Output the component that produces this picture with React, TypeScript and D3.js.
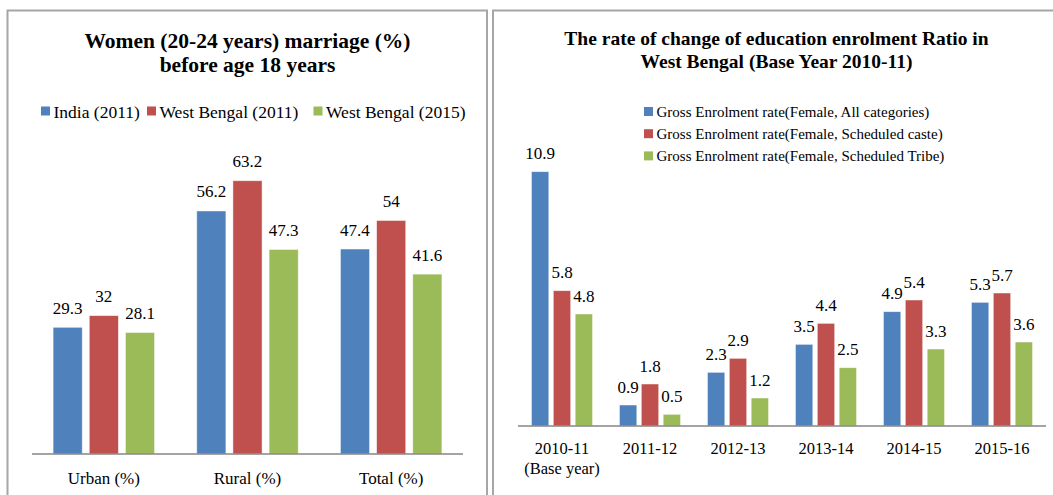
import React from 'react';
import * as d3 from 'd3';

// Left chart: women married before 18
const marriageCats = ['Urban (%)', 'Rural (%)', 'Total (%)'];
const marriageSeries = ['India (2011)', 'West Bengal (2011)', 'West Bengal (2015)'];
const india2011 = [29.3, 56.2, 47.4];
const wb2011 = [32, 63.2, 54];
const wb2015 = [28.1, 47.3, 41.6];

// Right chart: rate of change of enrolment
const enrolCats = ['2010-11|(Base year)', '2011-12', '2012-13', '2013-14', '2014-15', '2015-16'];
const enrolSeries = [
  'Gross Enrolment rate(Female, All categories)',
  'Gross Enrolment rate(Female, Scheduled caste)',
  'Gross Enrolment rate(Female, Scheduled Tribe)',
];
const gerAll = [10.9, 0.9, 2.3, 3.5, 4.9, 5.3];
const gerSC = [5.8, 1.8, 2.9, 4.4, 5.4, 5.7];
const gerST = [4.8, 0.5, 1.2, 2.5, 3.3, 3.6];

const colors = ['#4F81BD', '#C0504D', '#9BBB59'];
const font = '"Liberation Serif", "Times New Roman", serif';

const App = () => {
  // ---- left chart scales
  const lx0 = d3.scaleBand<string>().domain(marriageCats).range([32, 463]);
  const lx1 = d3.scaleBand<string>().domain(marriageSeries)
    .range([0, lx0.bandwidth()]).paddingInner(0.194).paddingOuter(0.583);
  const ly = d3.scaleLinear().domain([0, 70]).range([454, 151.3]);
  const leftData = [india2011, wb2011, wb2015];

  // ---- right chart scales
  const rx0 = d3.scaleBand<string>().domain(enrolCats).range([518, 1046]);
  const rx1 = d3.scaleBand<string>().domain(enrolSeries)
    .range([0, rx0.bandwidth()]).paddingInner(0.205).paddingOuter(0.614);
  const ry = d3.scaleLinear().domain([0, 12]).range([426, 146]);
  const rightData = [gerAll, gerSC, gerST];

  const leftLegendX = [41, 147, 313.5];

  return (
    <svg width={1053} height={495} style={{ position: 'absolute', left: 0, top: 0 }} fontFamily={font}>
      <rect x={0} y={0} width={1053} height={495} fill="#fff" />
      {/* panel frames */}
      <rect x={7.5} y={10.5} width={479.5} height={500} fill="none" stroke="#a6a6a6" strokeWidth={2} />
      <rect x={493} y={10.5} width={580} height={500} fill="none" stroke="#a6a6a6" strokeWidth={2} />

      {/* ---------- left chart ---------- */}
      <text x={247.5} y={48} textAnchor="middle" fontWeight="bold" fontSize={21.5}>Women (20-24 years) marriage (%)</text>
      <text x={247.5} y={72} textAnchor="middle" fontWeight="bold" fontSize={21.5}>before age 18 years</text>
      {marriageSeries.map((s, i) => (
        <g key={s} transform={`translate(${leftLegendX[i]},0)`}>
          <rect x={0} y={106.5} width={9} height={9} fill={colors[i]} />
          <text x={12.5} y={117.5} fontSize={17.5}>{s}</text>
        </g>
      ))}
      {marriageCats.map((c, ci) => (
        <g key={c} transform={`translate(${lx0(c)},0)`}>
          {marriageSeries.map((s, si) => {
            const v = leftData[si][ci];
            const x = lx1(s) as number;
            return (
              <g key={s}>
                <rect x={x} y={ly(v)} width={lx1.bandwidth()} height={ly(0) - ly(v)}
                  fill={colors[si]} stroke="#fff" strokeOpacity={0.6} strokeWidth={0.8} />
                <text x={x + lx1.bandwidth() / 2} y={ly(v) - 13.5} textAnchor="middle" fontSize={17}>{v}</text>
              </g>
            );
          })}
          <text x={lx0.bandwidth() / 2} y={484} textAnchor="middle" fontSize={17}>{c}</text>
        </g>
      ))}
      <line x1={32} x2={463} y1={454} y2={454} stroke="#868686" strokeWidth={1.5} />

      {/* ---------- right chart ---------- */}
      <text x={776.5} y={45} textAnchor="middle" fontWeight="bold" fontSize={19.5}>The rate of change of education enrolment Ratio in</text>
      <text x={776.5} y={68} textAnchor="middle" fontWeight="bold" fontSize={19.5}>West Bengal (Base Year 2010-11)</text>
      {enrolSeries.map((s, i) => (
        <g key={s} transform={`translate(644,${107 + i * 22.2})`}>
          <rect x={0} y={0} width={9} height={9} fill={colors[i]} />
          <text x={12.5} y={10} fontSize={15}>{s}</text>
        </g>
      ))}
      {enrolCats.map((c, ci) => (
        <g key={c} transform={`translate(${rx0(c)},0)`}>
          {enrolSeries.map((s, si) => {
            const v = rightData[si][ci];
            const x = rx1(s) as number;
            return (
              <g key={s}>
                <rect x={x} y={ry(v)} width={rx1.bandwidth()} height={ry(0) - ry(v)}
                  fill={colors[si]} stroke="#fff" strokeOpacity={0.6} strokeWidth={0.8} />
                <text x={x + rx1.bandwidth() / 2} y={ry(v) - 12.5} textAnchor="middle" fontSize={17}>{v}</text>
              </g>
            );
          })}
          {c.split('|').map((line, li) => (
            <text key={li} x={rx0.bandwidth() / 2} y={454 + li * 20} textAnchor="middle" fontSize={16.5}>{line}</text>
          ))}
        </g>
      ))}
      <line x1={518} x2={1046} y1={426} y2={426} stroke="#868686" strokeWidth={1.5} />
    </svg>
  );
};

export default App;
